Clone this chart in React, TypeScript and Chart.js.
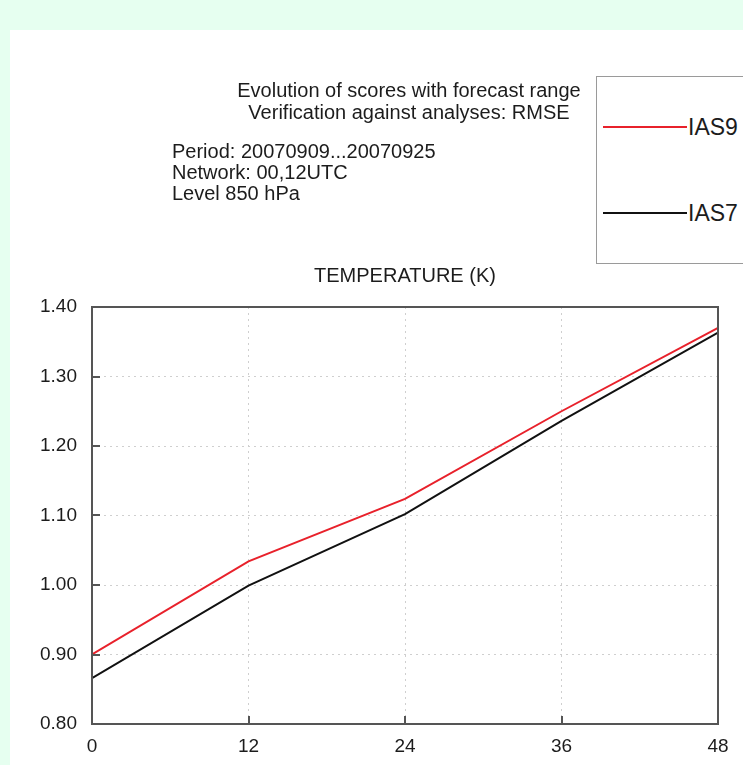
import React, { useEffect, useRef } from "react";
import { Chart, registerables } from "chart.js";

Chart.register(...registerables);

const forecastRange = [0, 12, 24, 36, 48];
const ias9 = [0.9, 1.034, 1.124, 1.25, 1.37];
const ias7 = [0.866, 0.999, 1.102, 1.236, 1.363];
const seriesNames = ["IAS9", "IAS7"];
const seriesColors = ["#e8212b", "#111111"];
const yTickMin = 0.8;
const yTickMax = 1.4;
const yTickStep = 0.1;
const xTickStep = 12;

const titleLines = ["Evolution of scores with forecast range", "Verification against analyses: RMSE"];
const infoLines = ["Period: 20070909...20070925", "Network: 00,12UTC", "Level 850 hPa"];
const panelTitle = "TEMPERATURE (K)";

const FONT = "'Liberation Sans', Arial, Helvetica, sans-serif";
const TEXT = "#1c1c1c";
const TICK_LEN = 8;

const framePlugin = {
  id: "frameTicks",
  afterDatasetsDraw(chart: any) {
    const { ctx, chartArea: a, scales } = chart;
    const x = scales.x;
    const y = scales.y;
    ctx.save();
    ctx.strokeStyle = "#555555";
    ctx.lineWidth = 2;
    ctx.beginPath();
    y.ticks.forEach((t: any) => {
      const py = Math.round(y.getPixelForValue(t.value));
      ctx.moveTo(a.left, py);
      ctx.lineTo(a.left + TICK_LEN, py);
    });
    x.ticks.forEach((t: any) => {
      const px = Math.round(x.getPixelForValue(t.value));
      ctx.moveTo(px, a.bottom);
      ctx.lineTo(px, a.bottom - TICK_LEN);
    });
    ctx.stroke();
    ctx.strokeRect(a.left, a.top, a.right - a.left, a.bottom - a.top);
    ctx.restore();
  },
};

export default function App() {
  const canvasRef = useRef<HTMLCanvasElement | null>(null);

  useEffect(() => {
    if (!canvasRef.current) return;
    const seriesData = [ias9, ias7];
    const chart = new Chart(canvasRef.current, {
      type: "line",
      data: {
        datasets: seriesNames.map((name, i) => ({
          label: name,
          data: forecastRange.map((v, j) => ({ x: v, y: seriesData[i][j] })),
          borderColor: seriesColors[i],
          borderWidth: 2,
          pointRadius: 0,
          fill: false,
          tension: 0,
        })),
      },
      options: {
        animation: false,
        responsive: false,
        maintainAspectRatio: false,
        layout: { padding: { left: 0, right: 25, top: 307, bottom: 0 } },
        plugins: {
          legend: { display: false },
          title: { display: false },
          tooltip: { enabled: false },
        },
        scales: {
          x: {
            type: "linear",
            min: forecastRange[0],
            max: forecastRange[forecastRange.length - 1],
            ticks: {
              stepSize: xTickStep,
              color: TEXT,
              font: { family: FONT, size: 19 },
              padding: 11,
              maxRotation: 0,
            },
            grid: { color: "#cfcfcf", lineWidth: 1, drawTicks: false },
            border: { display: false, dash: [2, 4] },
            afterFit: (s: any) => {
              s.height = 41;
            },
          },
          y: {
            type: "linear",
            min: yTickMin,
            max: yTickMax,
            ticks: {
              stepSize: yTickStep,
              color: TEXT,
              font: { family: FONT, size: 19 },
              padding: 15,
              callback: (v: any) => Number(v).toFixed(2),
            },
            grid: { color: "#cfcfcf", lineWidth: 1, drawTicks: false },
            border: { display: false, dash: [2, 4] },
            afterFit: (s: any) => {
              s.width = 92;
            },
          },
        },
      },
      plugins: [framePlugin],
    });
    return () => chart.destroy();
  }, []);

  return (
    <div
      style={{
        position: "absolute",
        left: 0,
        top: 0,
        width: 743,
        height: 765,
        overflow: "hidden",
        background: "#e6fff0",
        fontFamily: FONT,
        color: TEXT,
      }}
    >
      <div style={{ position: "absolute", left: 10, top: 30, width: 733, height: 735, background: "#ffffff" }} />
      <canvas ref={canvasRef} width={743} height={765} style={{ position: "absolute", left: 0, top: 0 }} />
      <div
        style={{
          position: "absolute",
          left: 159,
          top: 79,
          width: 500,
          textAlign: "center",
          fontSize: 20,
          lineHeight: "22px",
        }}
      >
        {titleLines.map((t) => (
          <div key={t}>{t}</div>
        ))}
      </div>
      <div style={{ position: "absolute", left: 172, top: 141, fontSize: 20, lineHeight: "21px" }}>
        {infoLines.map((t) => (
          <div key={t}>{t}</div>
        ))}
      </div>
      <div
        style={{
          position: "absolute",
          left: 205,
          top: 264,
          width: 400,
          textAlign: "center",
          fontSize: 20,
          lineHeight: "22px",
        }}
      >
        {panelTitle}
      </div>
      <div
        style={{
          position: "absolute",
          left: 596,
          top: 76,
          width: 200,
          height: 186,
          border: "1.5px solid #9a9a9a",
          background: "#ffffff",
        }}
      >
        {seriesNames.map((name, i) => (
          <div
            key={name}
            style={{
              position: "absolute",
              left: 6,
              top: (i === 0 ? 50 : 136) - 13,
              height: 26,
              display: "flex",
              alignItems: "center",
            }}
          >
            <span style={{ display: "inline-block", width: 84, height: 2, background: seriesColors[i] }} />
            <span style={{ fontSize: 23, lineHeight: "26px", marginLeft: 1 }}>{name}</span>
          </div>
        ))}
      </div>
    </div>
  );
}
